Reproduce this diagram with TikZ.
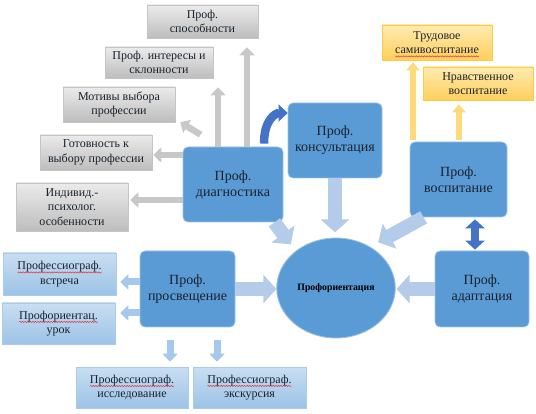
\documentclass[tikz,border=0pt]{standalone}
\usepackage{fontspec}
\setmainfont{Liberation Serif}
\usepackage{xcolor}
\definecolor{mainb}{HTML}{5B9BD5}
\definecolor{mainbd}{HTML}{9CC2E8}
\definecolor{grt}{HTML}{EBEBEB}
\definecolor{grb}{HTML}{BDBDBD}
\definecolor{grd}{HTML}{C4C4C4}
\definecolor{grarr}{HTML}{C8C8C8}
\definecolor{lbt}{HTML}{C9DEF2}
\definecolor{lbb}{HTML}{9CC3E6}
\definecolor{lbd}{HTML}{A9CBEA}
\definecolor{lbarr}{HTML}{A6C8EA}
\definecolor{wbarr}{HTML}{B4CCEA}
\definecolor{yet}{HTML}{FFEBB0}
\definecolor{yeb}{HTML}{FFCF5C}
\definecolor{yed}{HTML}{FFC845}
\definecolor{yearr}{HTML}{FFDA7A}
\definecolor{dkb}{HTML}{4472C4}
\definecolor{txt}{HTML}{1A222C}
\definecolor{spell}{HTML}{E8323A}
\usetikzlibrary{arrows.meta,positioning,calc,shapes.geometric,decorations.pathmorphing}
% red spell-check wave under a word
\newlength\spw
\newcommand\spellwave[1]{\settowidth\spw{#1}\rlap{\tikz[overlay,baseline=0pt,x=1pt,y=1pt]
  \draw[spell,line width=0.5pt,decorate,decoration={snake,amplitude=0.6pt,segment length=2.6pt}]
  (0,-2.8) -- (\spw,-2.8);}#1}
\tikzset{
  mbox/.style={draw=mainbd,fill=mainb,rounded corners=5pt,line width=0.8pt,align=center,
    text=txt,font=\fontsize{14}{16}\selectfont,inner sep=2pt},
  gbox/.style={draw=grd,top color=grt,bottom color=grb,line width=0.6pt,align=center,
    text=txt,font=\fontsize{12}{14.5}\selectfont,inner sep=2pt},
  lbox/.style={gbox,draw=lbd,top color=lbt,bottom color=lbb},
  ybox/.style={gbox,draw=yed,top color=yet,bottom color=yeb},
  garr/.style={draw=grarr,line width=6.5pt,-{Triangle[width=15pt,length=8pt]}},
  yarr/.style={draw=yearr,line width=6pt,-{Triangle[width=13pt,length=8pt]}},
  larr/.style={draw=lbarr,line width=7pt,-{Triangle[width=15pt,length=8pt]}},
  warr/.style={draw=wbarr,line width=14pt,-{Triangle[width=28pt,length=13pt]}},
  barr/.style={draw=dkb,line width=8.5pt,-{Triangle[width=17pt,length=9pt]}},
  dbarr/.style={draw=dkb,line width=8pt,{Triangle[width=19pt,length=9pt]}-{Triangle[width=19pt,length=9pt]}},
}
\begin{document}
\begin{tikzpicture}[x=1pt,y=-1pt]
\useasboundingbox (0,0) rectangle (536,414);
% central ellipse
\node[ellipse,draw=mainbd,fill=mainb,line width=0.8pt,minimum width=112pt,minimum height=100pt,
  text=black,font=\fontsize{9.8}{11}\selectfont\bfseries] (center) at (336,288) {Профориентация};
% main blocks
\node[mbox,minimum width=100pt,minimum height=75pt] (diag) at (233,184.5) {Проф.\\диагностика};
\node[mbox,minimum width=94pt,minimum height=75pt] (kons) at (335,140.5) {Проф.\\консультация};
\node[mbox,minimum width=97pt,minimum height=75pt] (vosp) at (458.5,179.5) {Проф.\\воспитание};
\node[mbox,minimum width=94pt,minimum height=76pt] (adapt) at (482,289) {Проф.\\адаптация};
\node[mbox,minimum width=95pt,minimum height=76pt] (prosv) at (187.5,289) {Проф.\\просвещение};
% diagnostics
\node[gbox,minimum width=111pt,minimum height=33pt] (sposob) at (202.5,21.5) {Проф.\\способности};
\node[gbox,minimum width=108pt,minimum height=31pt] (inter) at (159,62.5) {Проф. интересы и\\склонности};
\node[gbox,minimum width=112pt,minimum height=35pt] (motiv) at (119,104.5) {Мотивы выбора\\профессии};
\node[gbox,minimum width=112pt,minimum height=35pt] (gotov) at (96,152.5) {Готовность к\\выбору профессии};
\node[gbox,minimum width=112pt,minimum height=48pt] (indiv) at (72,207) {Индивид.-\\психолог.\\особенности};
% upbringing
\node[ybox,minimum width=110pt,minimum height=35pt] (trud) at (437,42.5) {Трудовое\\\spellwave{самивоспитание}};
\node[ybox,minimum width=110pt,minimum height=33pt] (nrav) at (478,83.5) {Нравственное\\воспитание};
% enlightenment
\node[lbox,minimum width=113pt,minimum height=42pt] (vstr) at (59.5,274) {\spellwave{Профессиограф.}\\встреча};
\node[lbox,minimum width=113pt,minimum height=41pt] (urok) at (58.5,323.5) {\spellwave{Профориентац.}\\урок};
\node[lbox,minimum width=112pt,minimum height=41pt] (issl) at (132,387.5) {\spellwave{Профессиограф.}\\исследование};
\node[lbox,minimum width=113pt,minimum height=41pt] (ekskr) at (249.5,387.5) {\spellwave{Профессиограф.}\\экскурсия};
% gray arrows
\coordinate (dg1) at ([xshift=14pt]diag.north);
\coordinate (dg2) at ([xshift=-15pt]diag.north);
\coordinate (dg3) at ([yshift=29.5pt]diag.west);
\coordinate (dg4) at ([yshift=-15.5pt]diag.west);
\draw[garr,shorten >=9pt] (dg1) -- (dg1 |- sposob.south);
\draw[garr,shorten >=9pt] (dg2) -- (dg2 |- inter.south);
\draw[garr] ($(diag.north west)+(18,-12)$) -- ($(motiv.south east)+(5,0)$);
\draw[garr,shorten >=1pt] (dg3) -- (dg3 -| gotov.east);
\draw[garr,shorten >=2pt] (dg4) -- (dg4 -| indiv.east);
% yellow arrows
\coordinate (vs1) at ([xshift=-45.5pt]vosp.north);
\coordinate (vs2) at ([xshift=0.5pt]vosp.north);
\draw[yarr,shorten <=2pt,shorten >=2pt] (vs1) -- (vs1 |- trud.south);
\draw[yarr,shorten <=2pt,shorten >=4pt] (vs2) -- (vs2 |- nrav.south);
% light arrows of prosv
\coordinate (pr1) at ([yshift=7pt]prosv.west);
\coordinate (pr2) at ([yshift=-24pt]prosv.west);
\coordinate (pr3) at ([xshift=-17.5pt]prosv.south);
\coordinate (pr4) at ([xshift=29.5pt]prosv.south);
\draw[larr,shorten >=4pt] (pr1) -- (pr1 -| vstr.east);
\draw[larr,shorten >=5pt] (pr2) -- (pr2 -| urok.east);
\draw[larr,shorten <=13pt,shorten >=5pt] (pr3) -- (pr3 |- issl.north);
\draw[larr,shorten <=13pt,shorten >=5pt] (pr4) -- (pr4 |- ekskr.north);
% wide arrows to centre
\draw[warr] (prosv.east) -- ++(41,0);
\draw[warr] (adapt.west) -- ++(-38,0);
\draw[warr] (kons.south) -- ++(0,54);
\draw[warr] ($(diag.south east)+(-9,0)$) -- ($(center.north west)+(-3,-8)$);
\draw[warr] ($(vosp.south west)+(14,0)$) -- ($(center.north east)+(0,-10)$);
% dark blue arrows
\draw[barr] ([xshift=31pt,yshift=3pt]diag.north) .. controls +(0,-24) and +(-12,0) .. ([yshift=27.5pt]kons.west);
\draw[dbarr,shorten <=2pt,shorten >=1pt] (vosp.south -| 475,0) -- (adapt.north -| 475,0);
\end{tikzpicture}
\end{document}
